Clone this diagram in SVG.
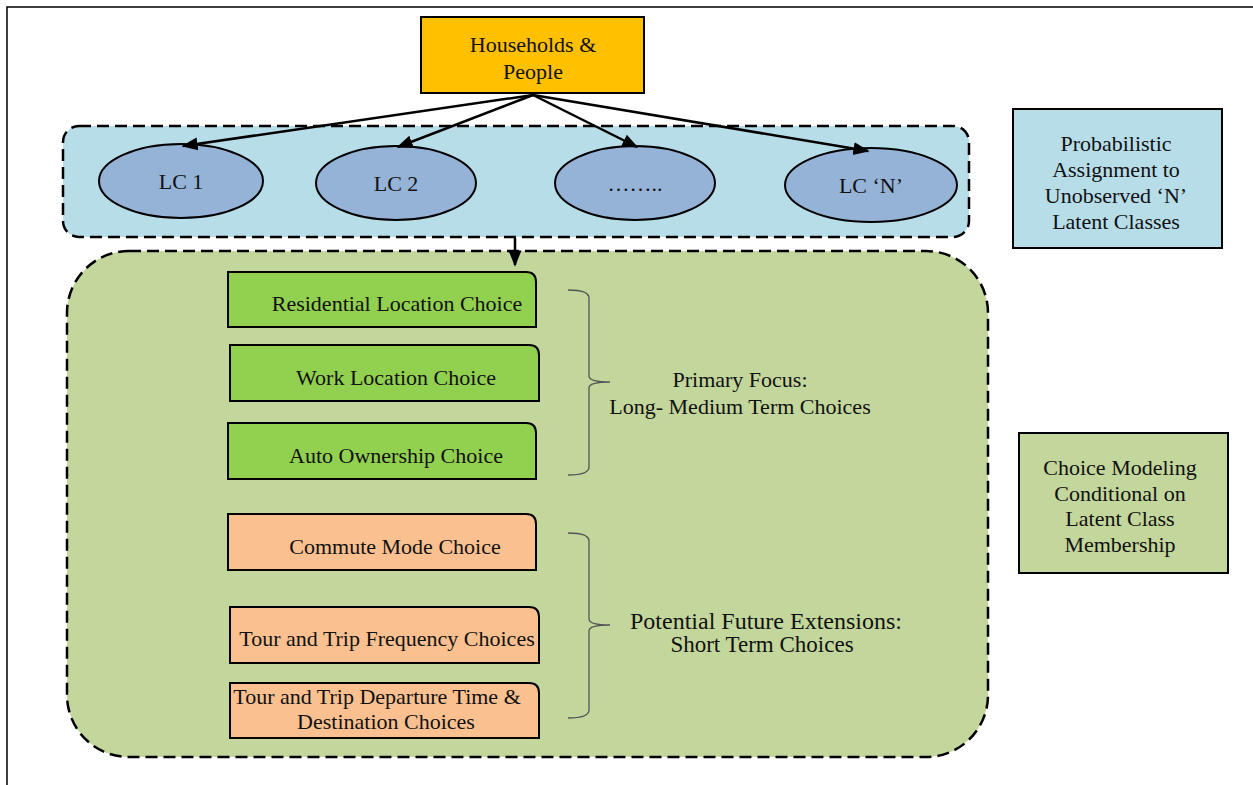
<svg xmlns="http://www.w3.org/2000/svg" width="1253" height="785" viewBox="0 0 1253 785">
  <defs>
    <style>
      text { font-family: "Liberation Serif", "Times New Roman", serif; font-size: 22px; fill: #111; text-anchor: middle; }
      .frame { stroke: #000; stroke-width: 1.5; fill: none; }
      .box { stroke: #000; stroke-width: 2; }
      .group { stroke: #000; stroke-width: 2.5; stroke-dasharray: 12 6; }
      .lc { fill: #95B3D7; stroke: #000; stroke-width: 2; }
      .green { fill: #92D050; stroke: #000; stroke-width: 2; }
      .orange { fill: #FAC090; stroke: #000; stroke-width: 2; }
      .brace { fill: none; stroke: #555; stroke-width: 1.3; }
      .edge { stroke: #000; stroke-width: 2.5; fill: none; marker-end: url(#arrow); }
    </style>
    <marker id="arrow" viewBox="0 0 10 10" refX="9" refY="5" markerWidth="6.5" markerHeight="6.5" markerUnits="strokeWidth" orient="auto">
      <path d="M0,1 L10,5 L0,9 Z" fill="#000"/>
    </marker>
  </defs>

  <rect width="1253" height="785" fill="#fff"/>
  <!-- page frame: top and left rules -->
  <path class="frame" d="M7,785 L7,7 L1253,7"/>

  <!-- latent class container -->
  <g id="latent-classes">
    <rect class="group" x="63" y="126" width="906" height="111" rx="16" fill="#B7DDE8"/>
  </g>

  <!-- choice modeling container -->
  <g id="choice-models">
    <rect class="group" x="67" y="251" width="921" height="506" rx="62" fill="#C3D69B"/>
  </g>

  <g id="households">
    <rect class="box" x="421" y="17" width="223" height="76" fill="#FFC000"/>
    <text x="533" y="52">Households &amp;</text>
    <text x="533" y="79">People</text>
  </g>

  <g id="lc1">
    <ellipse class="lc" cx="181" cy="181" rx="82" ry="37"/>
    <text x="181" y="189">LC 1</text>
  </g>
  <g id="lc2">
    <ellipse class="lc" cx="396" cy="183" rx="80" ry="37"/>
    <text x="396" y="191">LC 2</text>
  </g>
  <g id="lc-more">
    <ellipse class="lc" cx="635" cy="183" rx="80" ry="37"/>
    <text x="635" y="191">……..</text>
  </g>
  <g id="lcN">
    <ellipse class="lc" cx="871" cy="185" rx="86" ry="37"/>
    <text x="871" y="193">LC ‘N’</text>
  </g>

  <g id="assignment-note">
    <rect class="box" x="1013" y="109" width="209" height="139" fill="#B7DDE8"/>
    <text x="1116" y="151">Probabilistic</text>
    <text x="1116" y="177">Assignment  to</text>
    <text x="1116" y="203">Unobserved  ‘N’</text>
    <text x="1116" y="229">Latent Classes</text>
  </g>

  <g id="conditional-note">
    <rect class="box" x="1019" y="433" width="209" height="140" fill="#C3D69B"/>
    <text x="1120" y="475">Choice Modeling</text>
    <text x="1120" y="501">Conditional on</text>
    <text x="1120" y="526">Latent Class</text>
    <text x="1120" y="552">Membership</text>
  </g>

  <!-- long / medium term choices -->
  <g id="residential">
    <path class="green" d="M228,272 H526 Q536,272 536,282 V327 H228 Z"/>
    <text x="397" y="311">Residential Location Choice</text>
  </g>
  <g id="work">
    <path class="green" d="M230,345 H529 Q539,345 539,355 V401 H230 Z"/>
    <text x="396" y="385">Work Location Choice</text>
  </g>
  <g id="auto">
    <path class="green" d="M228,423 H526 Q536,423 536,433 V479 H228 Z"/>
    <text x="396" y="463">Auto Ownership Choice</text>
  </g>

  <!-- short term choices -->
  <g id="commute">
    <path class="orange" d="M228,514 H526 Q536,514 536,524 V570 H228 Z"/>
    <text x="395" y="554">Commute Mode Choice</text>
  </g>
  <g id="frequency">
    <path class="orange" d="M230,607 H529 Q539,607 539,617 V663 H230 Z"/>
    <text x="387" y="646">Tour and Trip Frequency Choices</text>
  </g>
  <g id="departure">
    <path class="orange" d="M230,683 H529 Q539,683 539,693 V738 H230 Z"/>
    <text x="377" y="704">Tour and Trip Departure Time &amp;</text>
    <text x="386" y="729">Destination Choices</text>
  </g>

  <!-- braces and their captions -->
  <g id="primary-brace">
    <path class="brace" d="M568,290 Q589,290 589,298 V376 Q589,382 610,382 Q589,382 589,388 V467 Q589,475 568,475"/>
    <text x="740" y="387">Primary Focus:</text>
    <text x="740" y="414">Long- Medium  Term Choices</text>
  </g>
  <g id="future-brace">
    <path class="brace" d="M568,533 Q589,533 589,541 V619 Q589,625 610,625 Q589,625 589,631 V710 Q589,718 568,718"/>
    <text x="766" y="629" style="font-size:24px">Potential Future Extensions:</text>
    <text x="762" y="652" style="font-size:23px">Short Term Choices</text>
  </g>

  <g id="connectors">
    <path class="edge" d="M533,95 L183,146"/>
    <path class="edge" d="M533,95 L398,147"/>
    <path class="edge" d="M533,95 L637,147"/>
    <path class="edge" d="M533,95 L868,151"/>
    <path class="edge" d="M515,238 L515,265"/>
  </g>
</svg>
